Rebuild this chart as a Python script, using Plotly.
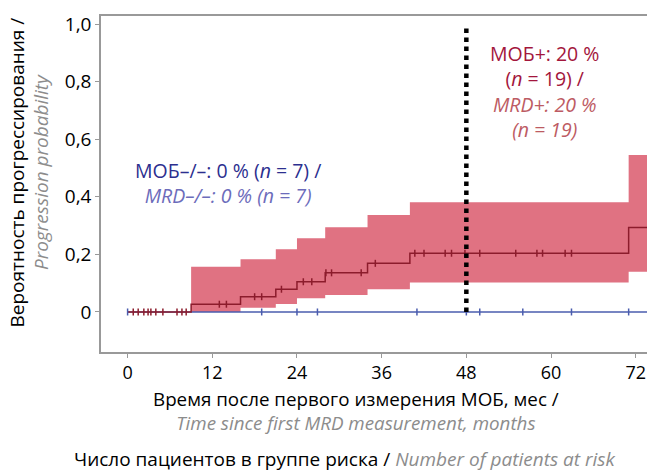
import plotly.graph_objects as go

# ---- data ----
red_times = [0, 9, 16, 21, 24, 28, 34, 40, 71, 75]
red_prob = [0, 0.027, 0.053, 0.079, 0.105, 0.136, 0.169, 0.204, 0.293, 0.293]
band_times = [9, 16, 21, 24, 28, 34, 40, 71, 75]
band_upper = [0.157, 0.183, 0.218, 0.256, 0.294, 0.337, 0.381, 0.545, 0.545]
band_lower = [0.0, 0.015, 0.028, 0.048, 0.059, 0.079, 0.102, 0.140, 0.140]
red_censor_t = [0.8, 1.5, 2.3, 2.9, 3.3, 4.0, 5.0, 7.0, 7.7, 8.3,
                13.0, 14.0, 18.0, 19.0, 21.8, 24.9, 26.1, 28.1, 28.9, 33.1,
                35.1, 40.7, 42.0, 45.0, 45.9, 47.8, 49.9, 55.0, 58.0, 58.8,
                62.0, 62.9]
blue_times = [0, 75]
blue_prob = [0, 0]
blue_censor_t = [0, 19.0, 24.0, 26.9, 41.0, 48.0, 49.9, 56.0, 62.9, 71.0]
landmark_month = [48, 48]
landmark_prob = [0, 1.0]

x_ticks = [0, 12, 24, 36, 48, 60, 72]
y_ticks = [0, 0.2, 0.4, 0.6, 0.8, 1.0]
y_ticklabels = ["0", "0,2", "0,4", "0,6", "0,8", "1,0"]


def step_value(times, vals, t):
    v = vals[0]
    for ti, vi in zip(times, vals):
        if ti <= t:
            v = vi
    return v


red_censor_y = [step_value(red_times, red_prob, t) for t in red_censor_t]
blue_censor_y = [0 for _ in blue_censor_t]

RED_BAND = "rgb(224,114,130)"
RED_LINE = "#8c1c2c"
BLUE_LINE = "#4a5cae"
FONT = "Open Sans"

fig = go.Figure()
fig.add_trace(go.Scatter(x=band_times, y=band_lower, mode="lines", line_shape="hv",
                         line=dict(width=0, color=RED_BAND), showlegend=False, hoverinfo="skip"))
fig.add_trace(go.Scatter(x=band_times, y=band_upper, mode="lines", line_shape="hv",
                         line=dict(width=0, color=RED_BAND), fill="tonexty",
                         fillcolor=RED_BAND, showlegend=False, hoverinfo="skip"))
fig.add_trace(go.Scatter(x=blue_times, y=blue_prob, mode="lines",
                         line=dict(width=1.5, color=BLUE_LINE), showlegend=False))
fig.add_trace(go.Scatter(x=red_times, y=red_prob, mode="lines", line_shape="hv",
                         line=dict(width=1.5, color=RED_LINE), showlegend=False))
fig.add_trace(go.Scatter(x=red_censor_t, y=red_censor_y, mode="markers",
                         marker=dict(symbol="line-ns", size=5,
                                     line=dict(width=1.5, color=RED_LINE)),
                         showlegend=False))
fig.add_trace(go.Scatter(x=blue_censor_t, y=blue_censor_y, mode="markers",
                         marker=dict(symbol="line-ns", size=5,
                                     line=dict(width=1.5, color=BLUE_LINE)),
                         showlegend=False))
fig.add_trace(go.Scatter(x=landmark_month, y=landmark_prob, mode="lines",
                         line=dict(width=4.5, color="black", dash="4.5px,4.5px"),
                         showlegend=False))

W, H = 647, 471
L, R, T, B = 101, 0, 16, 119
PW, PH = W - L - R, H - T - B


def px(xp):
    return (xp - L) / PW


def py(yp):
    return (H - B - yp) / PH


ann = []


def text(xp, yp, s, color="black", size=19, angle=0):
    ann.append(dict(x=px(xp), y=py(yp), xref="paper", yref="paper", text=s,
                    showarrow=False, xanchor="center", yanchor="middle",
                    textangle=angle, borderpad=0,
                    font=dict(family=FONT, size=size, color=color)))


def span(s, color):
    return "<span style='color:%s'>%s</span>" % (color, s)


RED_T1 = "#a3163c"
RED_T2 = "#bd5b63"
BLUE_T1 = "#2c2f8f"
BLUE_T2 = "#6c6cbb"
GREY = "#8c8c8c"

text(544, 91.5,
     "МОБ+: 20 %<br>(<i>n</i> = 19) /<br>"
     + span("<i>MRD+: 20 %</i>", RED_T2) + "<br>" + span("<i>(n = 19)</i>", RED_T2),
     RED_T1, 19.5)
text(228, 182.5,
     "МОБ–/–: 0 % (<i>n</i> = 7) /<br>" + span("<i>MRD–/–: 0 % (n = 7)</i>", BLUE_T2),
     BLUE_T1, 19.5)

text(355.5, 411,
     "Время после первого измерения МОБ, мес /<br>"
     + span("<i>Time since first MRD measurement, months</i>", GREY), size=18.8)
text(345, 459, "Число пациентов в группе риска / " + span("<i>Number of patients at risk</i>", GREY))

text(28.5, 173,
     "Вероятность прогрессирования /<br>" + span("<i>Progression probability</i>", GREY),
     angle=-90)

fig.update_layout(
    width=W, height=H,
    margin=dict(l=L, r=R, t=T, b=B, pad=0),
    paper_bgcolor="white", plot_bgcolor="white",
    font=dict(family=FONT, size=19, color="black"),
    annotations=ann,
    showlegend=False,
)
fig.update_xaxes(range=[-3.77, 73.6], tickvals=x_ticks, ticks="outside", ticklen=4,
                 tickcolor="#999999", showline=True, linecolor="#999999", linewidth=1.5,
                 mirror=True, showgrid=False, zeroline=False,
                 tickfont=dict(family=FONT, size=18, color="black"))
fig.update_yaxes(range=[-0.139, 1.028], tickvals=y_ticks, ticktext=y_ticklabels,
                 ticks="outside", ticklen=4, tickcolor="#999999", showline=True,
                 linecolor="#999999", linewidth=1.5, mirror=False, showgrid=False,
                 zeroline=False, tickfont=dict(family=FONT, size=19, color="black"))

fig.write_html("out.html")
